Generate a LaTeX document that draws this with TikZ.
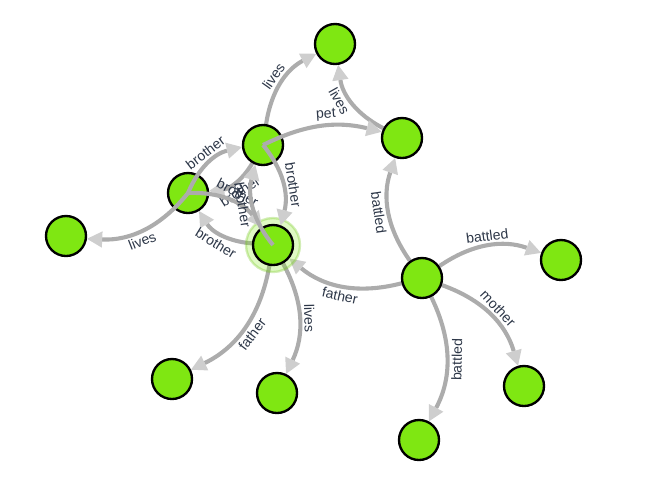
\documentclass[tikz,border=0pt]{standalone}
\usepackage{xcolor}
\usepackage{fontspec}
\setmainfont{Liberation Sans}
\usepackage{tikz}
\usetikzlibrary{arrows.meta}

\pgfdeclarelayer{background}
\pgfsetlayers{background,main}

\definecolor{godgreen}{RGB}{127,231,18}
\definecolor{linkgray}{RGB}{172,172,172}
\definecolor{tipgray}{RGB}{206,206,206}
\definecolor{lbltext}{RGB}{45,55,72}

\begin{document}
\begin{tikzpicture}[x=0.03cm, y=0.03cm,
	    god/.style={circle, draw=black, line width=2pt, fill=godgreen, minimum size=1.2cm, inner sep=0pt},
	    link/.style={draw=linkgray, line width=3.5pt, bend left=27,
	        -{Triangle[length=13pt,width=14pt,color=tipgray,line width=0pt]}},
	    lbl/.style={midway, sloped, inner sep=2.5pt, text=lbltext, font=\fontsize{12}{14}\selectfont}]
	
	    \useasboundingbox (0,0) rectangle (648,-500);
	
	    \node[circle, minimum size=1.62cm, fill=godgreen, fill opacity=0.25,
	        draw=godgreen!85!black, draw opacity=0.3, line width=2pt] (halo) at (273,-245) {};
	
	    \foreach \n/\x/\y in {tartarus/335/44, cerberus/402/138, pluto/263/145, neptune/188/193,
	        sea/66/236, jupiter/273/245, hercules/422/278, nemean/561/260,
	        saturn/172/379, sky/277/393, alcmene/524/386, hydra/419/440}
	        \node[god] (\n) at (\x,-\y) {};
	
	    \begin{pgfonlayer}{background}
	    \draw[link] (pluto) to node[lbl,above] {lives} (tartarus);
	    \draw[link] (cerberus) to node[lbl,below,pos=.6] {lives} (tartarus);
	    \draw[link] (pluto) to node[lbl,below] {brother} (neptune);
	    \draw[link] (jupiter) to node[lbl,below] {brother} (neptune);
	    \draw[link] (jupiter) to node[lbl,below] {father} (saturn);
	    \draw[link] (jupiter) to node[lbl,above] {lives} (sky);
	    \draw[link] (hercules) to node[lbl,below] {father} (jupiter);
	    \draw[link] (hercules) to node[lbl,below] {battled} (cerberus);
	    \draw[link] (hercules) to node[lbl,above] {battled} (nemean);
	    \draw[link] (hercules) to node[lbl,above] {mother} (alcmene);
	    \draw[link] (hercules) to node[lbl,below] {battled} (hydra);
	    \end{pgfonlayer}
	
	    \draw[link, bend left=20] (pluto.center) to node[lbl,above,pos=.55] {pet} (cerberus);
	    \draw[link] (pluto.center) to node[lbl,above,pos=.55] {brother} (jupiter);
	    \draw[link] (neptune.center) to node[lbl,above,pos=.55] {brother} (pluto);
	    \draw[link] (neptune.center) to node[lbl,below,pos=.55] {lives} (sea);
	    \draw[link] (neptune.center) to node[lbl,above,pos=.55] {brother} (jupiter);
	    \draw[link] (jupiter.center) to node[lbl,below,pos=.55] {brother} (pluto);
	
	\end{tikzpicture}
\end{document}
